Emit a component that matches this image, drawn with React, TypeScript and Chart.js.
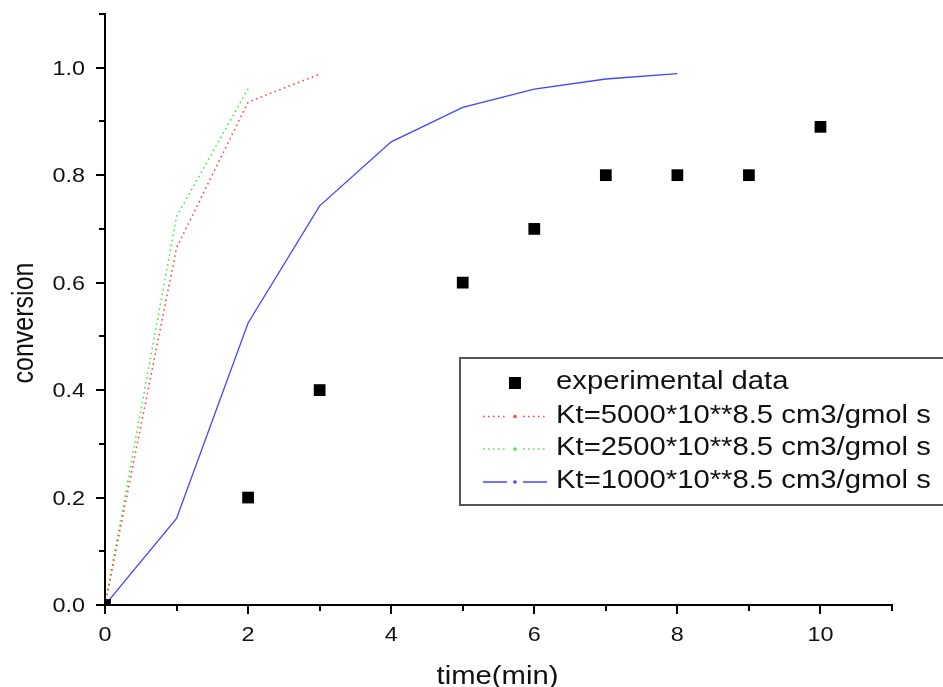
import React, { useEffect, useRef } from "react";
import { Chart, registerables } from "chart.js";

Chart.register(...registerables);

const expTime = [0, 2, 3, 5, 6, 7, 8, 9, 10];
const expConv = [0, 0.2, 0.4, 0.6, 0.7, 0.8, 0.8, 0.8, 0.89];

const kt5000Time = [0, 1, 2, 3];
const kt5000Conv = [0, 0.665, 0.936, 0.988];

const kt2500Time = [0, 1, 2];
const kt2500Conv = [0, 0.723, 0.961];

const kt1000Time = [0, 1, 2, 3, 4, 5, 6, 7, 8];
const kt1000Conv = [0, 0.161, 0.525, 0.743, 0.862, 0.926, 0.96, 0.979, 0.989];

const xTickValues = [0, 2, 4, 6, 8, 10];
const xLabels = ["0", "2", "4", "6", "8", "10"];
const yTickValues = [0, 0.2, 0.4, 0.6, 0.8, 1.0];
const yLabels = ["0.0", "0.2", "0.4", "0.6", "0.8", "1.0"];

const legendLabels = [
  "experimental data",
  "Kt=5000*10**8.5 cm3/gmol s",
  "Kt=2500*10**8.5 cm3/gmol s",
  "Kt=1000*10**8.5 cm3/gmol s",
];
const xTitle = "time(min)";
const yTitle = "conversion";

const FONT = "'Liberation Sans', Arial, sans-serif";
const SX = 1.17;

const toPts = (xs: number[], ys: number[]) => xs.map((x, i) => ({ x, y: ys[i] }));

function stretchedText(
  ctx: CanvasRenderingContext2D,
  text: string,
  x: number,
  y: number,
  size: number,
  align: CanvasTextAlign
) {
  ctx.save();
  ctx.translate(x, y);
  ctx.scale(SX, 1);
  ctx.font = `${size}px ${FONT}`;
  ctx.textAlign = align;
  ctx.textBaseline = "alphabetic";
  ctx.fillText(text, 0, 0);
  ctx.restore();
}

const decorPlugin = {
  id: "decor",
  afterDraw(chart: any) {
    const ctx = chart.ctx as CanvasRenderingContext2D;
    const xs = chart.scales.x;
    const ys = chart.scales.y;
    const area = chart.chartArea;
    ctx.save();
    // ticks
    ctx.strokeStyle = "#000";
    ctx.lineWidth = 2;
    for (let v = 0; v <= 11; v++) {
      const px = Math.round(xs.getPixelForValue(v));
      const len = v % 2 === 0 ? 9 : 6;
      ctx.beginPath();
      ctx.moveTo(px, area.bottom);
      ctx.lineTo(px, area.bottom + len);
      ctx.stroke();
    }
    for (let i = 0; i <= 11; i++) {
      const v = i / 10;
      const py = Math.round(ys.getPixelForValue(v));
      const len = i % 2 === 0 ? 9 : 6;
      ctx.beginPath();
      ctx.moveTo(area.left, py);
      ctx.lineTo(area.left - len, py);
      ctx.stroke();
    }
    // tick labels
    ctx.fillStyle = "#111";
    xTickValues.forEach((v, i) => {
      stretchedText(ctx, xLabels[i], xs.getPixelForValue(v), 641, 20, "center");
    });
    yTickValues.forEach((v, i) => {
      stretchedText(ctx, yLabels[i], 85, ys.getPixelForValue(v) + 7, 20, "right");
    });
    // axis titles
    stretchedText(ctx, xTitle, (area.left + area.right) / 2 - 1, 684, 25, "center");
    ctx.save();
    ctx.translate(33, 323);
    ctx.rotate(-Math.PI / 2);
    ctx.scale(1, SX);
    ctx.font = `25px ${FONT}`;
    ctx.textAlign = "center";
    ctx.textBaseline = "alphabetic";
    ctx.fillText(yTitle, 0, 0);
    ctx.restore();

    // legend box
    const bx = 460, by = 358, bw = 500, bh = 147;
    ctx.strokeStyle = "#555";
    ctx.lineWidth = 2;
    ctx.fillStyle = "#fff";
    ctx.fillRect(bx, by, bw, bh);
    ctx.strokeRect(bx, by, bw, bh);
    const rows = [383, 416.5, 449, 482];
    const ds = chart.data.datasets;
    ctx.fillStyle = "#000";
    ctx.fillRect(509, rows[0] - 6, 12, 12);
    for (let k = 1; k <= 3; k++) {
      const d = ds[k];
      ctx.strokeStyle = d.borderColor;
      ctx.lineWidth = d.borderWidth;
      ctx.setLineDash(d.borderDash || []);
      ctx.beginPath();
      ctx.moveTo(483, rows[k]);
      ctx.lineTo(507, rows[k]);
      ctx.moveTo(523, rows[k]);
      ctx.lineTo(547, rows[k]);
      ctx.stroke();
      ctx.setLineDash([]);
      ctx.fillStyle = d.borderColor;
      ctx.beginPath();
      ctx.arc(515, rows[k], 1.8, 0, Math.PI * 2);
      ctx.fill();
    }
    ctx.fillStyle = "#111";
    legendLabels.forEach((t, i) => stretchedText(ctx, t, 556, rows[i] + 6, 25, "left"));
    ctx.restore();
  },
};

export default function App() {
  const ref = useRef<HTMLCanvasElement | null>(null);
  useEffect(() => {
    document.body.style.margin = "0";
    const chart = new Chart(ref.current as HTMLCanvasElement, {
      type: "scatter",
      data: {
        datasets: [
          {
            label: legendLabels[0],
            data: toPts(expTime, expConv),
            showLine: false,
            pointStyle: "rect",
            pointRadius: 8.3,
            pointBackgroundColor: "#000",
            pointBorderColor: "#000",
            pointBorderWidth: 0,
            order: 0,
          },
          {
            label: legendLabels[1],
            data: toPts(kt5000Time, kt5000Conv),
            showLine: true,
            borderColor: "rgba(255,40,40,0.85)",
            borderWidth: 1.6,
            borderDash: [1.6, 3.4],
            pointRadius: 0,
            order: 1,
          },
          {
            label: legendLabels[2],
            data: toPts(kt2500Time, kt2500Conv),
            showLine: true,
            borderColor: "rgba(40,230,40,0.85)",
            borderWidth: 1.6,
            borderDash: [1.6, 3.4],
            pointRadius: 0,
            order: 2,
          },
          {
            label: legendLabels[3],
            data: toPts(kt1000Time, kt1000Conv),
            showLine: true,
            borderColor: "#4444ff",
            borderWidth: 1.3,
            pointRadius: 0,
            order: 3,
          },
        ],
      },
      options: {
        animation: false,
        responsive: false,
        devicePixelRatio: 1,
        layout: { padding: { top: 14, right: 51, left: 0, bottom: 0 } },
        plugins: { legend: { display: false }, tooltip: { enabled: false } },
        scales: {
          x: {
            type: "linear",
            min: 0,
            max: 11,
            grid: { display: false, drawTicks: false },
            border: { display: true, color: "#000", width: 2 },
            ticks: { display: false, stepSize: 1 },
            afterFit: (s: any) => {
              s.height = 82;
              s.paddingLeft = 0;
              s.paddingRight = 0;
            },
          },
          y: {
            type: "linear",
            min: 0,
            max: 1.1,
            grid: { display: false, drawTicks: false },
            border: { display: true, color: "#000", width: 2 },
            ticks: { display: false, stepSize: 0.1 },
            afterFit: (s: any) => {
              s.width = 105;
              s.paddingTop = 0;
              s.paddingBottom = 0;
            },
          },
        },
      },
      plugins: [decorPlugin],
    } as any);
    return () => chart.destroy();
  }, []);
  return (
    <div style={{ position: "fixed", left: 0, top: 0, width: 943, height: 687, background: "#fff" }}>
      <canvas ref={ref} width={943} height={687} />
    </div>
  );
}
